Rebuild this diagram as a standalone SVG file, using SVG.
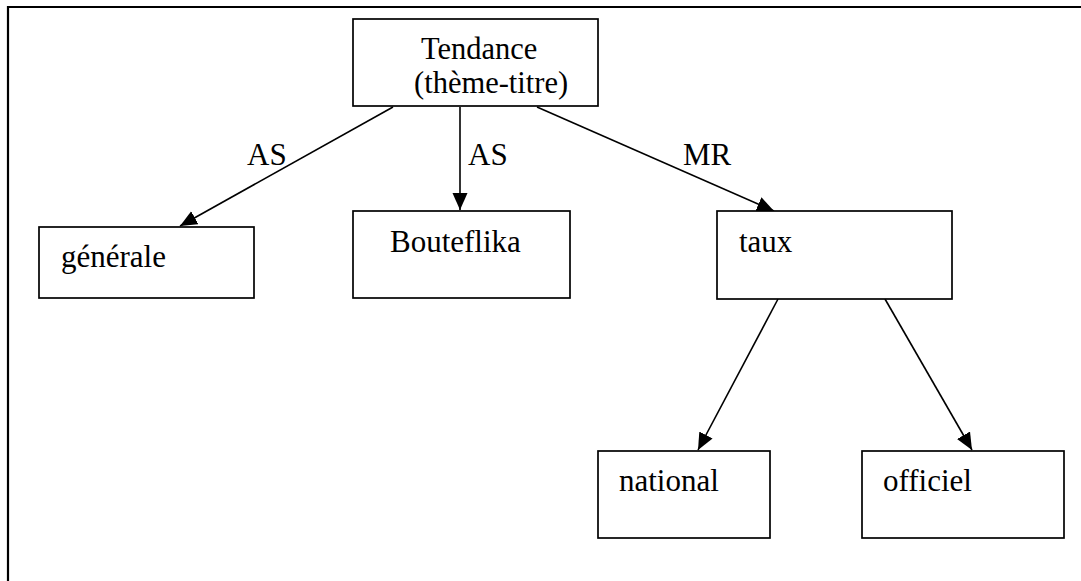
<svg xmlns="http://www.w3.org/2000/svg" width="1081" height="581" viewBox="0 0 1081 581">
<style>
.box{fill:#fff;stroke:#000;stroke-width:1.7}
.t{font-family:"Liberation Serif","Times New Roman",serif;font-size:31px;fill:#000}
.tt{font-size:30.5px}
.c{stroke:#000;stroke-width:1.6;fill:none;marker-end:url(#ah)}
</style>
<defs>
<marker id="ah" markerUnits="userSpaceOnUse" markerWidth="19" markerHeight="16" refX="17" refY="7.5" orient="auto">
<path d="M0,0 L17,7.5 L0,15 Z" fill="#000"/>
</marker>
</defs>
<rect width="1081" height="581" fill="#fff"/>
<path d="M8,581 V7 H1081" fill="none" stroke="#000" stroke-width="2.2"/>
<g id="connectors">
<line class="c" x1="393" y1="107" x2="180" y2="226"/>
<line class="c" x1="460" y1="107" x2="460" y2="210"/>
<line class="c" x1="537" y1="107" x2="774" y2="211"/>
<line class="c" x1="778" y1="299" x2="698" y2="450"/>
<line class="c" x1="885" y1="299" x2="972" y2="450"/>
<text class="t" x="247" y="165">AS</text>
<text class="t" x="468" y="165">AS</text>
<text class="t" x="683" y="165">MR</text>
</g>
<g id="tendance">
<rect class="box" x="353" y="19" width="245" height="87"/>
<text class="t tt" x="421" y="59">Tendance</text>
<text class="t tt" x="414" y="93">(thème-titre)</text>
</g>
<g id="generale">
<rect class="box" x="39" y="227" width="215" height="71"/>
<text class="t" x="61" y="267">générale</text>
</g>
<g id="bouteflika">
<rect class="box" x="353" y="211" width="217" height="87"/>
<text class="t" x="390" y="252">Bouteflika</text>
</g>
<g id="taux">
<rect class="box" x="717" y="211" width="235" height="88"/>
<text class="t" x="739" y="252">taux</text>
</g>
<g id="national">
<rect class="box" x="598" y="451" width="172" height="87"/>
<text class="t" x="619" y="491">national</text>
</g>
<g id="officiel">
<rect class="box" x="862" y="451" width="202" height="87"/>
<text class="t" x="883" y="491">officiel</text>
</g>
</svg>
